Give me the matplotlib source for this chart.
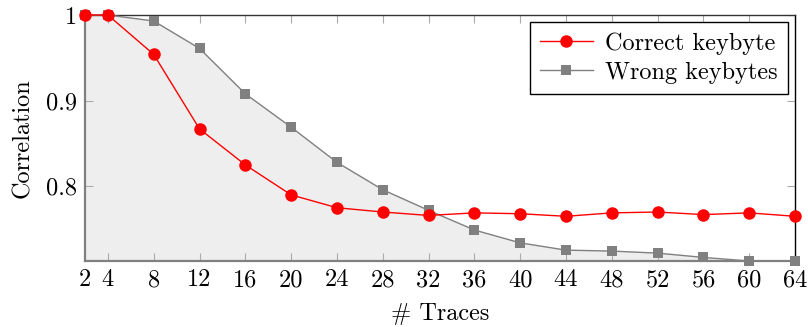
import matplotlib

matplotlib.use("Agg")
import matplotlib.pyplot as plt

plt.rcParams["font.family"] = ["cmr10", "DejaVu Serif"]
plt.rcParams["axes.formatter.use_mathtext"] = True
plt.rcParams["mathtext.fontset"] = "cm"

traces = [2, 4, 8, 12, 16, 20, 24, 28, 32, 36, 40, 44, 48, 52, 56, 60, 64]
correct = [1.0, 1.0, 0.954, 0.867, 0.825, 0.790, 0.775, 0.770, 0.766, 0.769,
           0.768, 0.765, 0.769, 0.770, 0.767, 0.769, 0.765]
wrong = [1.0, 1.0, 0.993, 0.961, 0.908, 0.869, 0.828, 0.796, 0.772, 0.749,
         0.734, 0.7255, 0.7244, 0.722, 0.717, 0.7128, 0.7128]

y_ticks = [0.8, 0.9, 1.0]
y_tick_labels = ["0.8", "0.9", "1"]

RED = "#ff0000"
GRAY = "#808080"
FONT_SIZE = 17.5

fig = plt.figure(figsize=(8.08, 3.27), dpi=100)
ax = fig.add_axes([0.1052, 0.2018, 0.8787, 0.7523])

ymin = min(wrong)
ax.fill_between(traces, wrong, ymin, facecolor="#eeeeee", edgecolor="none", zorder=0)

ax.plot(traces, wrong, color=GRAY, linewidth=1, marker="s", markersize=7.6,
        markeredgewidth=0, label="Wrong keybytes", zorder=3, clip_on=False)
ax.plot(traces, correct, color=RED, linewidth=1, marker="o", markersize=9,
        markeredgewidth=0, label="Correct keybyte", zorder=4, clip_on=False)

ax.set_xlim(traces[0], traces[-1])
ax.set_ylim(ymin, 1.0)

ax.set_xticks(traces)
ax.set_xticklabels([str(t) for t in traces])
ax.set_yticks(y_ticks)
ax.set_yticklabels(y_tick_labels)

ax.tick_params(direction="in", length=6, width=0.8, color="#aaaaaa",
               top=True, right=True, labelsize=FONT_SIZE, pad=6)

for side in ["left", "bottom"]:
    ax.spines[side].set_color(GRAY)
    ax.spines[side].set_linewidth(1.6)
ax.spines["top"].set_color("#333333")
ax.spines["right"].set_color("#000000")
for side in ["top", "right"]:
    ax.spines[side].set_linewidth(1.0)

ax.set_xlabel("# Traces", fontsize=FONT_SIZE, labelpad=8)
ax.set_ylabel("Correlation", fontsize=FONT_SIZE, labelpad=8)

handles, labels = ax.get_legend_handles_labels()
leg = ax.legend(handles[::-1], labels[::-1], loc="upper right", fontsize=FONT_SIZE,
                frameon=True, fancybox=False, framealpha=1, edgecolor="black",
                borderaxespad=0.3, handlelength=2.2, borderpad=0.4,
                labelspacing=0.3, handletextpad=0.5)
leg.get_frame().set_linewidth(1.0)

fig.savefig("out.png", dpi=100)
